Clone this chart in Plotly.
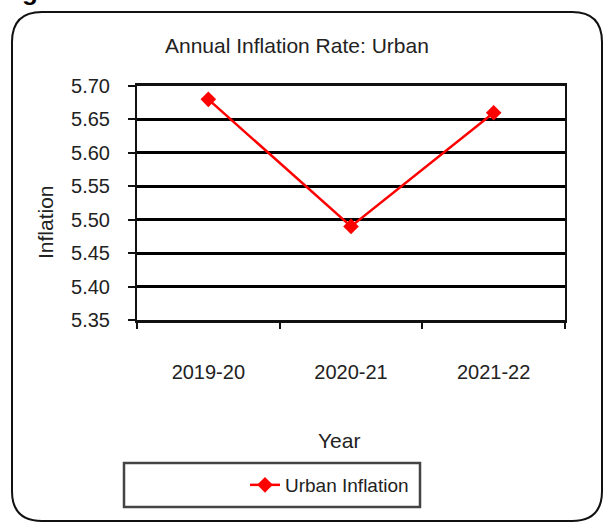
import plotly.graph_objects as go

years = ["2019-20", "2020-21", "2021-22"]
urban_inflation = [5.68, 5.49, 5.66]
y_ticks = [5.35, 5.40, 5.45, 5.50, 5.55, 5.60, 5.65, 5.70]
y_tick_labels = ["5.35", "5.40", "5.45", "5.50", "5.55", "5.60", "5.65", "5.70"]

FW, FH = 604, 524
L, R, T, B = 137, 39, 86, 204
PW, PH = FW - L - R, FH - T - B

def fx(px):
    return (px - L) / PW

def fy(py):
    return (FH - B - py) / PH

def rounded_rect(x0, y0, x1, y1, r):
    pts = [
        ("M", [(x0 + r, y0)]),
        ("L", [(x1 - r, y0)]),
        ("Q", [(x1, y0), (x1, y0 + r)]),
        ("L", [(x1, y1 - r)]),
        ("Q", [(x1, y1), (x1 - r, y1)]),
        ("L", [(x0 + r, y1)]),
        ("Q", [(x0, y1), (x0, y1 - r)]),
        ("L", [(x0, y0 + r)]),
        ("Q", [(x0, y0), (x0 + r, y0)]),
    ]
    s = ""
    for cmd, ps in pts:
        s += cmd + " " + " ".join(f"{fx(a):.5f},{fy(b):.5f}" for a, b in ps) + " "
    return s + "Z"

FONT = "Liberation Sans, Arial, sans-serif"
TXT = "#222222"

fig = go.Figure()
fig.add_trace(go.Scatter(
    x=years, y=urban_inflation, mode="lines+markers", name="Urban Inflation",
    line=dict(color="#ff0000", width=2.5),
    marker=dict(symbol="diamond", size=12, color="#ff0000"),
))

shapes = [
    dict(type="path", xref="paper", yref="paper", path=rounded_rect(12, 12, 602, 521, 30),
         line=dict(color="#111111", width=2), layer="below"),
    dict(type="rect", xref="paper", yref="paper", x0=fx(124), x1=fx(420), y0=fy(463), y1=fy(507),
         line=dict(color="#444444", width=2.5), layer="below"),
]

annotations = [
    dict(text="Annual Inflation Rate: Urban", xref="paper", yref="paper", x=fx(297), y=fy(46),
         showarrow=False, font=dict(family=FONT, size=21, color=TXT), xanchor="center", yanchor="middle"),
    dict(text="Inflation", xref="paper", yref="paper", x=fx(46), y=fy(222), textangle=-90,
         showarrow=False, font=dict(family=FONT, size=21, color=TXT), xanchor="center", yanchor="middle"),
    dict(text="Year", xref="paper", yref="paper", x=fx(339), y=fy(440),
         showarrow=False, font=dict(family=FONT, size=21, color=TXT), xanchor="center", yanchor="middle"),
    dict(text="<b>g</b>", xref="paper", yref="paper", x=fx(30), y=fy(-9),
         showarrow=False, font=dict(family=FONT, size=26, color="#000000"), xanchor="center", yanchor="middle"),
]

fig.update_layout(
    width=FW, height=FH,
    margin=dict(l=L, r=R, t=T, b=B),
    paper_bgcolor="white", plot_bgcolor="white",
    font=dict(family=FONT, size=20, color=TXT),
    showlegend=True,
    legend=dict(x=fx(245), y=fy(485), xanchor="left", yanchor="middle",
                bgcolor="rgba(0,0,0,0)", borderwidth=0,
                font=dict(family=FONT, size=19, color=TXT)),
    shapes=shapes,
    annotations=annotations,
    xaxis=dict(
        type="category", range=[-0.5, 2.5], showgrid=False,
        showline=True, linecolor="#111111", linewidth=2.5, mirror=True,
        ticks="outside", tickson="boundaries", ticklen=6, tickcolor="#111111", tickwidth=1.5,
        ticklabelstandoff=32, tickfont=dict(family=FONT, size=20, color=TXT),
    ),
    yaxis=dict(
        range=[5.35, 5.70], tickvals=y_ticks, ticktext=y_tick_labels,
        showgrid=True, gridcolor="#000000", gridwidth=3,
        showline=True, linecolor="#111111", linewidth=2, mirror=True,
        ticks="outside", ticklen=7, tickcolor="#111111", tickwidth=1.5,
        ticklabelstandoff=14, tickfont=dict(family=FONT, size=20, color=TXT),
        zeroline=False,
    ),
)

fig.write_html(
    "out.html",
    config={"displayModeBar": False},
    post_script="document.body.style.margin='0';document.body.style.overflow='hidden';",
)
